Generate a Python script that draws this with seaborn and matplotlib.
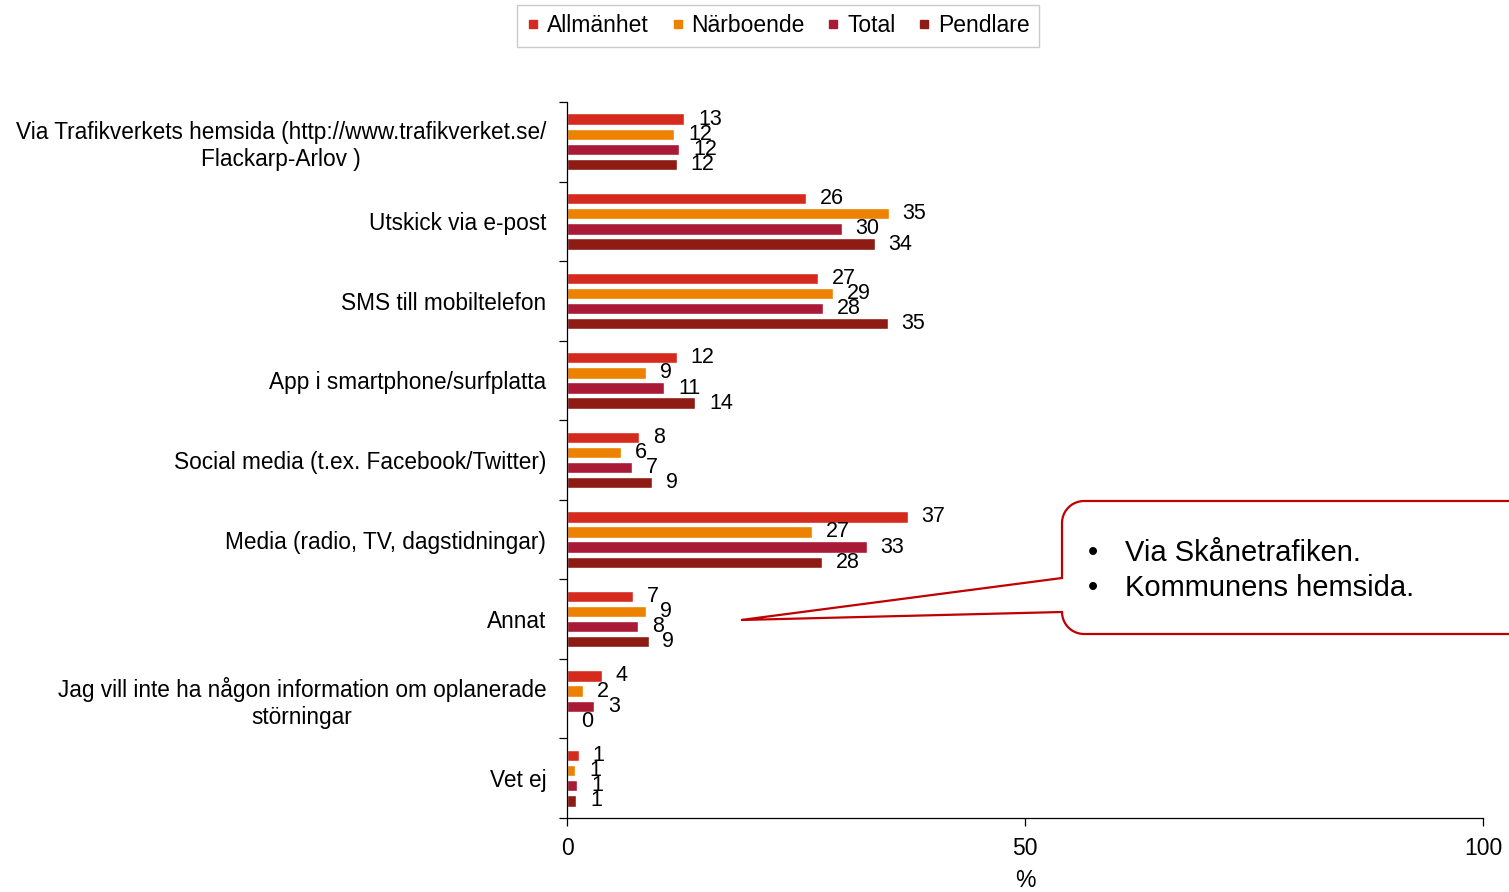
"""
Horizontal grouped bar chart: how respondents want to be informed
about unplanned disruptions, split by group.
"""

import numpy as np
import pandas as pd
import matplotlib.pyplot as plt
import seaborn as sns
from matplotlib.lines import Line2D
from matplotlib.patches import Polygon


# ------------------------------------------------------------------
# Data (values in %)
# ------------------------------------------------------------------
categories = [
    "Via Trafikverkets hemsida (http://www.trafikverket.se/\nFlackarp-Arlov )",
    "Utskick via e-post",
    "SMS till mobiltelefon",
    "App i smartphone/surfplatta",
    "Social media (t.ex. Facebook/Twitter)",
    "Media (radio, TV, dagstidningar)",
    "Annat",
    "Jag vill inte ha någon information om oplanerade\nstörningar",
    "Vet ej",
]
groups = ["Allmänhet", "Närboende", "Total", "Pendlare"]

allmanhet = [12.8, 26.1, 27.4, 12.0, 7.9, 37.2, 7.2, 3.8, 1.3]
narboende = [11.7, 35.1, 29.0, 8.6, 5.9, 26.7, 8.6, 1.75, 0.9]
total = [12.25, 30.0, 28.0, 10.6, 7.1, 32.7, 7.8, 2.95, 1.1]
pendlare = [12.0, 33.6, 35.0, 14.0, 9.3, 27.8, 8.9, 0.0, 1.0]

x_ticks = [0, 50, 100]
callout_lines = ["Via Skånetrafiken.", "Kommunens hemsida."]

colors = ["#D52B1E", "#EC8200", "#A81A35", "#8F1C14"]


def build_frame():
    series = [allmanhet, narboende, total, pendlare]
    rows = []
    for grp, vals in zip(groups, series):
        for cat, v in zip(categories, vals):
            rows.append({"category": cat, "group": grp, "value": v})
    return pd.DataFrame(rows)


def main():
    df = build_frame()

    sns.set_style("white")
    plt.rcParams["font.family"] = ["Liberation Sans", "DejaVu Sans"]
    plt.rcParams["text.color"] = "black"
    plt.rcParams["xtick.color"] = "black"
    plt.rcParams["ytick.color"] = "black"
    plt.rcParams["axes.labelcolor"] = "black"

    W, H = 1509, 892
    fig = plt.figure(figsize=(W / 100, H / 100), dpi=100)
    ax = fig.add_axes([567 / W, 1 - 818 / H, (1483 - 567) / W, (818 - 102) / H])

    sns.barplot(
        data=df, x="value", y="category", hue="group", orient="h",
        palette=colors, saturation=1, width=0.76, gap=0.25,
        legend=False, ax=ax,
    )

    # value labels, rounded like the original
    for cont in ax.containers:
        labels = [f"{round(v)}" for v in cont.datavalues]
        ax.bar_label(cont, labels=labels, padding=10, fontsize=15.5,
                     color="black")

    ax.set_xlim(0, 100)
    ax.set_ylim(len(categories) - 0.5, -0.5)
    ax.set_xticks(x_ticks)
    ax.set_xlabel("%", fontsize=16.5, labelpad=6)
    ax.set_ylabel("")

    for s in ["top", "right"]:
        ax.spines[s].set_visible(False)
    for s in ["left", "bottom"]:
        ax.spines[s].set_color("black")
        ax.spines[s].set_linewidth(0.9)

    ax.tick_params(axis="x", direction="out", length=6, width=0.9,
                   labelsize=16.5, pad=8, bottom=True)
    ax.tick_params(axis="y", which="major", length=0, pad=15, labelsize=16.3)
    ax.set_yticks(np.arange(-0.5, len(categories), 1.0), minor=True)
    ax.tick_params(axis="y", which="minor", direction="out", length=6,
                   width=0.9, left=True)
    for lab in ax.get_yticklabels():
        lab.set_multialignment("center")

    # legend on top
    handles = [Line2D([], [], marker="s", linestyle="", color=c, markersize=6)
               for c in colors]
    leg = fig.legend(
        handles, groups, loc="center", bbox_to_anchor=(778 / W, 1 - 26 / H),
        ncol=4, fontsize=16.5, frameon=True, fancybox=False,
        handletextpad=0.3, columnspacing=0.95, handlelength=0.6,
        borderpad=0.4,
    )
    leg.get_frame().set_edgecolor("#BFBFBF")
    leg.get_frame().set_linewidth(1)

    # callout box with pointer, drawn in pixel coordinates
    ov = fig.add_axes([0, 0, 1, 1], facecolor="none")
    ov.set_xlim(0, W)
    ov.set_ylim(H, 0)
    ov.axis("off")

    x0, y0, y1, r = 1062, 501, 634, 22
    pts = [(x0 + r, y0), (W + 20, y0), (W + 20, y1), (x0 + r, y1)]
    t = np.linspace(np.pi / 2, np.pi, 12)
    pts += [(x0 + r - r * np.sin(a - np.pi / 2), y1 - r + r * np.cos(a - np.pi / 2)) for a in t]
    pts += [(x0, 612), (741, 620), (x0, 578)]
    pts += [(x0 + r - r * np.cos(a), y0 + r - r * np.sin(a)) for a in np.linspace(0, np.pi / 2, 12)]
    ov.add_patch(Polygon(pts, closed=True, facecolor="white",
                         edgecolor="#C00000", linewidth=1.6, clip_on=False))

    for i, line in enumerate(callout_lines):
        yy = 553 + i * 35
        ov.text(1093, yy, "•", fontsize=21, va="center", ha="center")
        ov.text(1125, yy, line, fontsize=21, va="center", ha="left")

    fig.savefig("out.png", dpi=100)


if __name__ == "__main__":
    main()
